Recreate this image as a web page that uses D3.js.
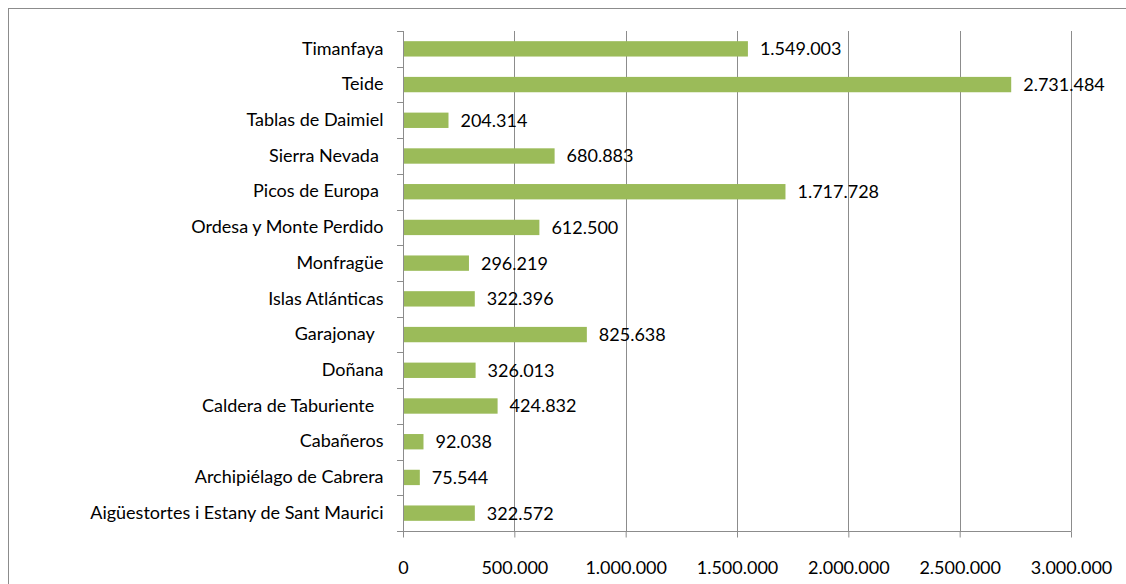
<!DOCTYPE html>
<html><head><meta charset="utf-8">
<script src="https://cdn.jsdelivr.net/npm/d3@7"></script>
<style>
html,body{margin:0;padding:0;background:#fff;}
svg{display:block;}
text{font-family:Lato, "Open Sans", sans-serif;font-size:18px;fill:#000;white-space:pre;}
</style></head>
<body>
<svg id="c" width="1126" height="584"></svg>
<script>
const categories = ["Timanfaya","Teide","Tablas de Daimiel","Sierra Nevada ","Picos de Europa ","Ordesa y Monte Perdido","Monfragüe","Islas Atlánticas","Garajonay  ","Doñana","Caldera de Taburiente  ","Cabañeros","Archipiélago de Cabrera","Aigüestortes i Estany de Sant Maurici"];
const visitors = [1549003,2731484,204314,680883,1717728,612500,296219,322396,825638,326013,424832,92038,75544,322572];
const xTicks = [0,500000,1000000,1500000,2000000,2500000,3000000];

const data = categories.map((c,i)=>({c, v:visitors[i]}));
const svg = d3.select("#c");
const L = 403, R = 1071, T = 31, B = 531;
const loc = d3.formatLocale({decimal:",",thousands:".",grouping:[3],currency:["","€"]});
const fmt = loc.format(",d");

svg.append("rect").attr("x",8.5).attr("y",8.5).attr("width",1130).attr("height",600)
  .attr("fill","#fff").attr("stroke","#8c8c8c").attr("stroke-width",1);

const x = d3.scaleLinear().domain([0,3000000]).range([L,R]);
const y = d3.scaleBand().domain(categories).range([T,B]).paddingInner(0.57).paddingOuter(0.285);
const yb = d3.scaleBand().domain(categories).range([T,B]);

// gridlines
svg.append("g").selectAll("line").data(xTicks.slice(1)).join("line")
  .attr("x1",d=>Math.round(x(d))+0.5).attr("x2",d=>Math.round(x(d))+0.5)
  .attr("y1",T).attr("y2",B).attr("stroke","#8c8c8c").attr("stroke-width",1);

// bars
svg.append("g").selectAll("rect").data(data).join("rect")
  .attr("x",x(0)).attr("y",d=>y(d.c)).attr("width",d=>x(d.v)-x(0)).attr("height",y.bandwidth())
  .attr("fill","#9bbb59");

// x axis
const gx = svg.append("g").attr("transform",`translate(0,${B+0.5})`)
  .call(d3.axisBottom(x).tickValues(xTicks).tickFormat(fmt).tickSize(6).tickSizeOuter(0).tickPadding(24));
gx.select(".domain").attr("d",`M${L-6},0H${R+0.5}`).attr("stroke","#8c8c8c");
gx.selectAll(".tick line").attr("stroke","#8c8c8c");
gx.selectAll(".tick text").style("font-size","18px").attr("fill","#000");

// y axis
const gy = svg.append("g").attr("transform",`translate(${L+0.5},0)`)
  .call(d3.axisLeft(yb).tickSize(0).tickPadding(20));
gy.select(".domain").attr("d",`M0,${T}V${B}`).attr("stroke","#8c8c8c");
gy.selectAll(".tick text").style("font-size","18px").attr("fill","#000").attr("xml:space","preserve");
const bounds = yb.domain().map(d=>yb(d)).concat([B]);
svg.append("g").selectAll("line").data(bounds.slice(0,-1)).join("line")
  .attr("x1",L-6).attr("x2",L).attr("y1",d=>Math.round(d)+0.5).attr("y2",d=>Math.round(d)+0.5)
  .attr("stroke","#8c8c8c");

// value labels
svg.append("g").selectAll("text").data(data).join("text")
  .attr("x",d=>x(d.v)+12).attr("y",d=>y(d.c)+y.bandwidth()/2).attr("dy","0.36em")
  .text(d=>fmt(d.v));
</script>
</body></html>
